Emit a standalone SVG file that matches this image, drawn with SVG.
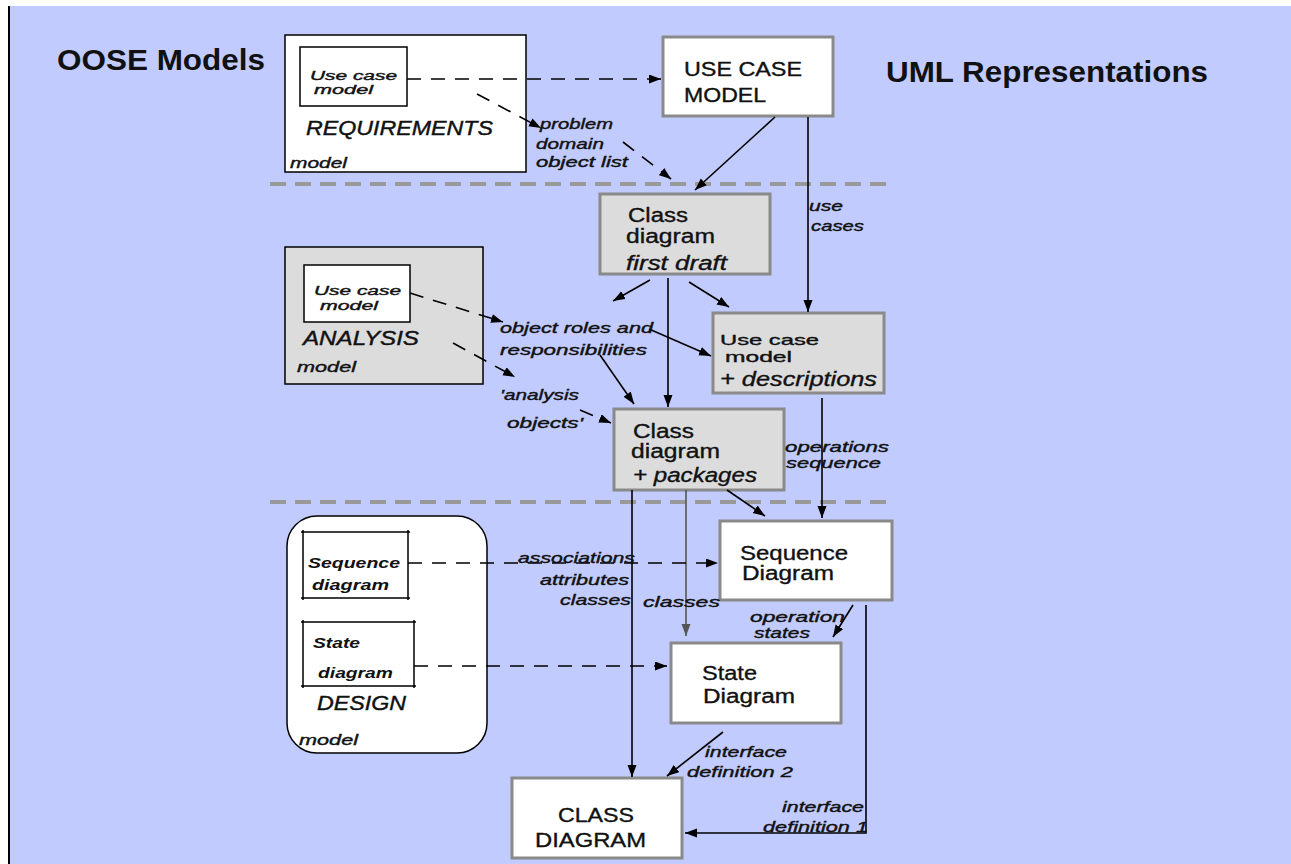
<svg xmlns="http://www.w3.org/2000/svg" width="1291" height="864" viewBox="0 0 1291 864">
<defs>
<marker id="ah" markerUnits="userSpaceOnUse" markerWidth="13" markerHeight="10" refX="12" refY="4.5" orient="auto">
<path d="M0,0 L12,4.5 L0,9 z" fill="#000"/>
</marker>
<marker id="ahg" markerUnits="userSpaceOnUse" markerWidth="13" markerHeight="10" refX="12" refY="4.5" orient="auto">
<path d="M0,0 L12,4.5 L0,9 z" fill="#555"/>
</marker>
</defs>
<style>
text{font-family:"Liberation Sans",Arial,sans-serif;fill:#111}
.title{font-size:29px;font-weight:bold}
.box{font-size:20px;stroke:#111;stroke-width:0.35}
.boxs{font-size:14.5px;stroke:#111;stroke-width:0.35}
.boxi{font-size:20px;font-style:italic;stroke:#111;stroke-width:0.35}
.lbl{font-size:15.5px;font-style:italic;stroke:#111;stroke-width:0.4}
.mdl{font-size:20px;font-style:italic;stroke:#111;stroke-width:0.4}
.sm{font-size:15.5px;font-style:italic;stroke:#111;stroke-width:0.4}
.ss{font-size:13.5px;font-style:italic;stroke:#111;stroke-width:0.4}
.bi{font-size:15.5px;font-style:italic;font-weight:bold}
.uml{fill:#fff;stroke:#8a8a8a;stroke-width:3}
.umlg{fill:#dcdcdc;stroke:#8a8a8a;stroke-width:3}
.oose{fill:#fff;stroke:#000;stroke-width:1.5}
.ooseg{fill:#dcdcdc;stroke:#000;stroke-width:1.5}
.sep{stroke:#999;stroke-width:4;stroke-dasharray:16 9;fill:none}
.c{stroke:#000;stroke-width:1.6;fill:none;marker-end:url(#ah)}
.d{stroke:#000;stroke-width:1.6;fill:none;stroke-dasharray:14 10;marker-end:url(#ah)}
.g{stroke:#555;stroke-width:1.6;fill:none;marker-end:url(#ahg)}
</style>
<rect x="0" y="0" width="1291" height="864" fill="#fff"/>
<rect x="10" y="6" width="1281" height="858" fill="#c1cbfd"/>
<line x1="9" y1="6" x2="9" y2="864" stroke="#000" stroke-width="2"/>

<text class="title" x="57" y="70" textLength="208" lengthAdjust="spacingAndGlyphs">OOSE Models</text>
<text class="title" x="886" y="82" textLength="322" lengthAdjust="spacingAndGlyphs">UML Representations</text>

<line class="sep" x1="270" y1="184" x2="895" y2="184"/>
<line class="sep" x1="270" y1="502" x2="895" y2="502"/>

<g id="requirements">
<rect class="oose" x="285" y="35" width="241" height="137"/>
<rect class="oose" x="300" y="47" width="107" height="59"/>
<text class="ss" x="310" y="80" textLength="87" lengthAdjust="spacingAndGlyphs">Use case</text>
<text class="ss" x="314" y="94" textLength="59" lengthAdjust="spacingAndGlyphs">model</text>
<text class="mdl" x="306" y="135" textLength="187" lengthAdjust="spacingAndGlyphs">REQUIREMENTS</text>
<text class="sm" x="290" y="168" textLength="57" lengthAdjust="spacingAndGlyphs">model</text>
</g>

<g id="use-case-model">
<rect class="uml" x="663" y="37" width="170" height="79"/>
<text class="box" x="684" y="76" textLength="118" lengthAdjust="spacingAndGlyphs">USE CASE</text>
<text class="box" x="684" y="102" textLength="82" lengthAdjust="spacingAndGlyphs">MODEL</text>
</g>

<g id="class-first-draft">
<rect class="umlg" x="600" y="194" width="170" height="80"/>
<text class="box" x="628" y="222" textLength="60" lengthAdjust="spacingAndGlyphs">Class</text>
<text class="box" x="626" y="243" textLength="89" lengthAdjust="spacingAndGlyphs">diagram</text>
<text class="boxi" x="626" y="270" textLength="101" lengthAdjust="spacingAndGlyphs">first draft</text>
</g>

<g id="analysis">
<rect class="ooseg" x="285" y="247" width="198" height="137"/>
<rect class="oose" x="304" y="265" width="106" height="57"/>
<text class="ss" x="314" y="295" textLength="87" lengthAdjust="spacingAndGlyphs">Use case</text>
<text class="ss" x="320" y="310" textLength="58" lengthAdjust="spacingAndGlyphs">model</text>
<text class="mdl" x="303" y="345" textLength="116" lengthAdjust="spacingAndGlyphs">ANALYSIS</text>
<text class="sm" x="297" y="372" textLength="59" lengthAdjust="spacingAndGlyphs">model</text>
</g>

<g id="use-case-descriptions">
<rect class="umlg" x="713" y="313" width="171" height="80"/>
<text class="boxs" x="720" y="345" textLength="99" lengthAdjust="spacingAndGlyphs">Use case</text>
<text class="boxs" x="725" y="362" textLength="67" lengthAdjust="spacingAndGlyphs">model</text>
<text class="boxi" x="720" y="386" textLength="157" lengthAdjust="spacingAndGlyphs">+ descriptions</text>
</g>

<g id="class-packages">
<rect class="umlg" x="614" y="409" width="170" height="81"/>
<text class="box" x="633" y="438" textLength="61" lengthAdjust="spacingAndGlyphs">Class</text>
<text class="box" x="631" y="458" textLength="89" lengthAdjust="spacingAndGlyphs">diagram</text>
<text class="boxi" x="633" y="482" textLength="124" lengthAdjust="spacingAndGlyphs">+ packages</text>
</g>

<g id="design">
<rect class="oose" x="287" y="516" width="200" height="237" rx="30" ry="30"/>
<path d="M301,532 H410 M303,530 V600 M301,598 H410 M408,530 V600" stroke="#000" stroke-width="1.5" fill="none"/>
<text class="bi" x="308" y="568" textLength="92" lengthAdjust="spacingAndGlyphs">Sequence</text>
<text class="bi" x="312" y="590" textLength="77" lengthAdjust="spacingAndGlyphs">diagram</text>
<path d="M301,622 H416 M303,620 V688 M301,686 H416 M414,620 V688" stroke="#000" stroke-width="1.5" fill="none"/>
<text class="bi" x="313" y="648" textLength="47" lengthAdjust="spacingAndGlyphs">State</text>
<text class="bi" x="318" y="678" textLength="75" lengthAdjust="spacingAndGlyphs">diagram</text>
<text class="mdl" x="317" y="710" textLength="89" lengthAdjust="spacingAndGlyphs">DESIGN</text>
<text class="sm" x="299" y="745" textLength="59" lengthAdjust="spacingAndGlyphs">model</text>
</g>

<g id="sequence-diagram">
<rect class="uml" x="720" y="521" width="172" height="79"/>
<text class="box" x="740" y="560" textLength="108" lengthAdjust="spacingAndGlyphs">Sequence</text>
<text class="box" x="742" y="580" textLength="92" lengthAdjust="spacingAndGlyphs">Diagram</text>
</g>

<g id="state-diagram">
<rect class="uml" x="671" y="643" width="170" height="80"/>
<text class="box" x="702" y="680" textLength="55" lengthAdjust="spacingAndGlyphs">State</text>
<text class="box" x="703" y="703" textLength="92" lengthAdjust="spacingAndGlyphs">Diagram</text>
</g>

<g id="class-diagram">
<rect class="uml" x="512" y="778" width="170" height="80"/>
<text class="box" x="558" y="822" textLength="76" lengthAdjust="spacingAndGlyphs">CLASS</text>
<text class="box" x="535" y="847" textLength="111" lengthAdjust="spacingAndGlyphs">DIAGRAM</text>
</g>

<g id="connectors">
<path class="d" d="M407,79 L661,79"/>
<path class="d" d="M477,94 L541,128"/>
<path class="d" d="M623,142 L671,179"/>
<path class="c" d="M775,117 L695,190"/>
<path class="c" d="M808,117 L808,312"/>
<path class="c" d="M650,280 L613,301"/>
<path class="c" d="M668,278 L668,407"/>
<path class="c" d="M689,282 L729,307"/>
<path class="d" d="M410,293 L503,322"/>
<path class="d" d="M453,343 L515,377"/>
<path class="d" d="M580,410 L611,423"/>
<path class="c" d="M649,329 L711,356"/>
<path class="c" d="M600,355 L634,404"/>
<path class="c" d="M822,398 L822,518"/>
<path class="c" d="M727,490 L765,516"/>
<path class="c" d="M632,490 L632,777"/>
<path class="g" d="M686,490 L686,636"/>
<path class="d" d="M408,563 L718,563"/>
<path class="d" d="M414,666 L667,666"/>
<path class="c" d="M853,605 L833,637"/>
<path class="c" d="M866,605 L866,833 L685,833"/>
<path class="c" d="M723,732 L667,776"/>
</g>

<g id="labels">
<text class="lbl" x="540" y="129" textLength="73" lengthAdjust="spacingAndGlyphs">problem</text>
<text class="lbl" x="536" y="149" textLength="68" lengthAdjust="spacingAndGlyphs">domain</text>
<text class="lbl" x="536" y="167" textLength="92" lengthAdjust="spacingAndGlyphs">object list</text>
<text class="lbl" x="809" y="211" textLength="34" lengthAdjust="spacingAndGlyphs">use</text>
<text class="lbl" x="811" y="231" textLength="53" lengthAdjust="spacingAndGlyphs">cases</text>
<text class="lbl" x="500" y="333" textLength="153" lengthAdjust="spacingAndGlyphs">object roles and</text>
<text class="lbl" x="500" y="355" textLength="147" lengthAdjust="spacingAndGlyphs">responsibilities</text>
<text class="lbl" x="500" y="400" textLength="79" lengthAdjust="spacingAndGlyphs">'analysis</text>
<text class="lbl" x="507" y="428" textLength="76" lengthAdjust="spacingAndGlyphs">objects'</text>
<text class="lbl" x="785" y="452" textLength="104" lengthAdjust="spacingAndGlyphs">operations</text>
<text class="lbl" x="786" y="468" textLength="95" lengthAdjust="spacingAndGlyphs">sequence</text>
<text class="lbl" x="518" y="563" textLength="117" lengthAdjust="spacingAndGlyphs">associations</text>
<text class="lbl" x="540" y="585" textLength="89" lengthAdjust="spacingAndGlyphs">attributes</text>
<text class="lbl" x="560" y="605" textLength="71" lengthAdjust="spacingAndGlyphs">classes</text>
<text class="lbl" x="643" y="607" textLength="77" lengthAdjust="spacingAndGlyphs">classes</text>
<text class="lbl" x="750" y="622" textLength="95" lengthAdjust="spacingAndGlyphs">operation</text>
<text class="lbl" x="754" y="638" textLength="56" lengthAdjust="spacingAndGlyphs">states</text>
<text class="lbl" x="705" y="757" textLength="82" lengthAdjust="spacingAndGlyphs">interface</text>
<text class="lbl" x="687" y="777" textLength="106" lengthAdjust="spacingAndGlyphs">definition 2</text>
<text class="lbl" x="782" y="812" textLength="82" lengthAdjust="spacingAndGlyphs">interface</text>
<text class="lbl" x="763" y="832" textLength="105" lengthAdjust="spacingAndGlyphs">definition 1</text>
</g>
</svg>
